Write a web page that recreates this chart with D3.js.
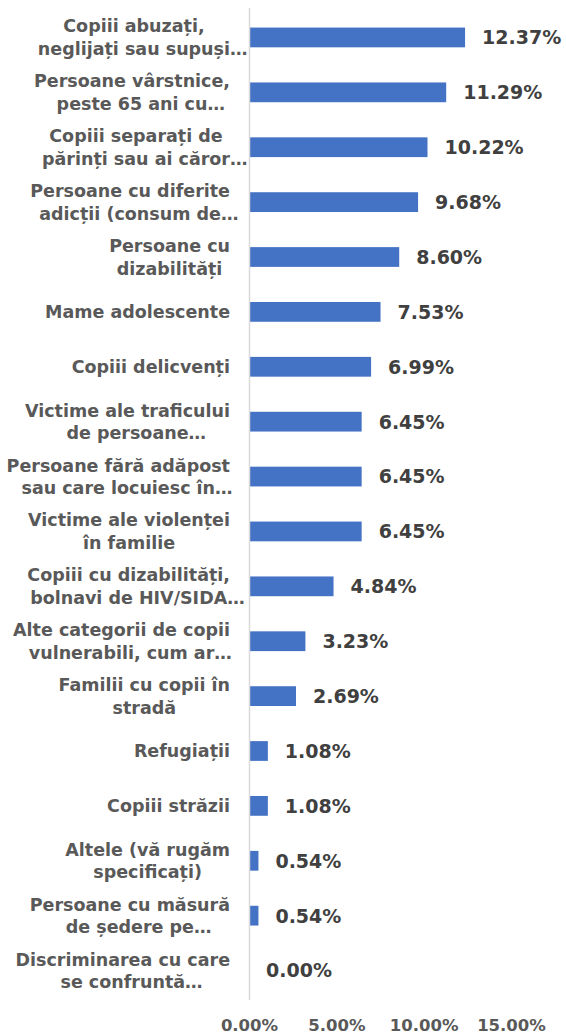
<!DOCTYPE html>
<html>
<head>
<meta charset="utf-8">
<script src="https://cdn.jsdelivr.net/npm/d3@7"></script>
<style>
  body { margin: 0; background: #fff; }
  svg text { font-family: "DejaVu Sans", Verdana, sans-serif; font-weight: bold; }
</style>
</head>
<body>
<div id="chart"></div>
<script>
const categories = [
  "Copiii abuzați,\nneglijați sau supuși…",
  "Persoane vârstnice,\npeste 65 ani cu…",
  "Copiii separați de\npărinți sau ai căror…",
  "Persoane cu diferite\nadicții (consum de…",
  "Persoane cu\ndizabilități",
  "Mame adolescente",
  "Copiii delicvenți",
  "Victime ale traficului\nde persoane…",
  "Persoane fără adăpost\nsau care locuiesc în…",
  "Victime ale violenței\nîn familie",
  "Copiii cu dizabilități,\nbolnavi de HIV/SIDA…",
  "Alte categorii de copii\nvulnerabili, cum ar…",
  "Familii cu copii în\nstradă",
  "Refugiații",
  "Copiii străzii",
  "Altele (vă rugăm\nspecificați)",
  "Persoane cu măsură\nde ședere pe…",
  "Discriminarea cu care\nse confruntă…"
];
const values = [12.37, 11.29, 10.22, 9.68, 8.60, 7.53, 6.99, 6.45, 6.45, 6.45, 4.84, 3.23, 2.69, 1.08, 1.08, 0.54, 0.54, 0.00];
const ticks = [0, 5, 10, 15];

const width = 566, height = 1036;
const x0 = 249;

const svg = d3.select('#chart').append('svg')
  .attr('width', width)
  .attr('height', height);

const x = d3.scaleLinear().domain([0, 15]).range([x0, 511]);
const y = d3.scaleBand().domain(d3.range(categories.length))
  .range([10, 998]).paddingInner(0.64).paddingOuter(0.32);

// bars
svg.selectAll('.bar')
  .data(values)
  .enter().append('rect')
  .attr('class', 'bar')
  .attr('x', x(0))
  .attr('y', (d, i) => y(i))
  .attr('width', d => x(d) - x(0))
  .attr('height', y.bandwidth())
  .attr('fill', '#4472C4');

// vertical axis line
svg.append('line')
  .attr('x1', x0 + 0.5).attr('x2', x0 + 0.5)
  .attr('y1', 8).attr('y2', 1000)
  .attr('stroke', '#d9d9d9').attr('stroke-width', 1.5);

// value labels
svg.selectAll('.val')
  .data(values)
  .enter().append('text')
  .attr('class', 'val')
  .attr('x', d => x(d) + 17)
  .attr('y', (d, i) => y(i) + y.bandwidth() / 2)
  .attr('dy', '0.36em')
  .attr('fill', '#404040')
  .style('font-size', '19px')
  .text(d => d.toFixed(2) + '%');

// category labels: lines centred in a block, block right-aligned,
// a trailing ellipsis hangs past the block edge
const lineH = 22.5;
const labelRight = 230;
const lab = svg.selectAll('.cat')
  .data(categories)
  .enter().append('text')
  .attr('class', 'cat')
  .attr('fill', '#595959')
  .style('font-size', '17.5px');

const probe = svg.append('text').attr('class', 'cat').style('font-size', '17.5px').text('…');
const ellW = probe.node().getComputedTextLength();
probe.remove();

lab.each(function (d, i) {
  const lines = d.split('\n');
  const cy = y(i) + y.bandwidth() / 2;
  const top = cy - (lines.length - 1) * lineH / 2;
  const spans = d3.select(this).selectAll('tspan')
    .data(lines)
    .enter().append('tspan')
    .attr('y', (l, j) => top + j * lineH)
    .attr('dy', '0.36em')
    .text(l => l);
  const cores = spans.nodes().map((n, j) =>
    n.getComputedTextLength() - (lines[j].endsWith('…') ? ellW : 0));
  const W = d3.max(cores);
  const centre = labelRight - W / 2;
  spans.attr('x', (l, j) => centre - cores[j] / 2);
});

// x axis tick labels
svg.append('g')
  .attr('transform', 'translate(0,1019)')
  .call(d3.axisBottom(x).tickValues(ticks).tickSize(0).tickPadding(0)
    .tickFormat(d => d.toFixed(2) + '%'))
  .call(g => g.select('.domain').remove())
  .call(g => g.selectAll('text')
    .attr('fill', '#595959')
    .style('font-size', '16.5px')
    .style('font-family', '"DejaVu Sans", Verdana, sans-serif')
    .style('font-weight', 'bold'));
</script>
</body>
</html>
